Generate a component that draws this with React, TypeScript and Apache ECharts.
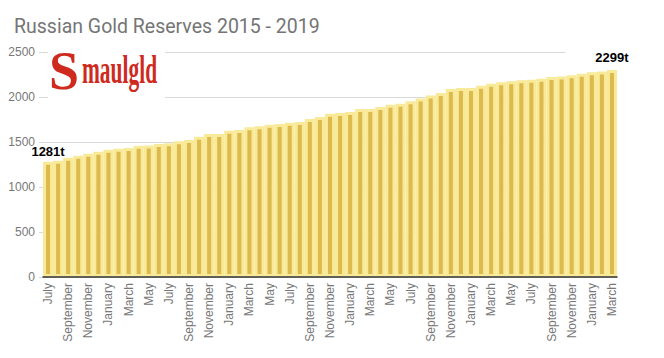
import React, { useEffect, useRef } from "react";
import * as echarts from "echarts";

const TITLE = "Russian Gold Reserves 2015 - 2019";

const months: string[] = [
  "July", "August", "September", "October", "November", "December",
  "January", "February", "March", "April", "May", "June",
  "July", "August", "September", "October", "November", "December",
  "January", "February", "March", "April", "May", "June",
  "July", "August", "September", "October", "November", "December",
  "January", "February", "March", "April", "May", "June",
  "July", "August", "September", "October", "November", "December",
  "January", "February", "March", "April", "May", "June",
  "July", "August", "September", "October", "November", "December",
  "January", "February", "March",
];

const reserves: number[] = [
  1281, 1293, 1326, 1348, 1370, 1393, 1415, 1426, 1433, 1459,
  1460, 1477, 1485, 1507, 1522, 1559, 1588, 1590, 1626, 1633,
  1663, 1674, 1693, 1699, 1715, 1722, 1755, 1777, 1813, 1822,
  1833, 1866, 1867, 1888, 1915, 1926, 1952, 1982, 2018, 2044,
  2088, 2099, 2100, 2126, 2148, 2163, 2174, 2185, 2193, 2204,
  2222, 2229, 2241, 2259, 2274, 2282, 2299,
];

const yTicks = { min: 0, max: 2500, interval: 500 };

export default function App() {
  const ref = useRef<HTMLDivElement>(null);
  useEffect(() => {
    if (!ref.current) return;
    const chart = echarts.init(ref.current, null, { renderer: "svg" });
    const last = reserves.length - 1;
    const seriesData = reserves.map((v, i) =>
      i === 0 || i === last
        ? {
            value: v,
            label: {
              show: true,
              position: "top",
              formatter: "{c}t",
              color: "#000",
              fontWeight: "bold",
              fontSize: 13,
              fontFamily: "Liberation Sans, Arial, sans-serif",
              backgroundColor: i === last ? "#fff" : "transparent",
              padding: i === last ? [2, 30, 2, 30] : 0,
              distance: 4,
            },
          }
        : v
    );
    chart.setOption({
      animation: false,
      backgroundColor: "#fff",
      title: {
        text: TITLE,
        left: 9,
        top: 11,
        textStyle: {
          fontFamily: "Roboto, sans-serif",
          fontWeight: "normal",
          fontSize: 19.5,
          color: "#757575",
        },
      },
      grid: { left: 43, right: 47, top: 52, bottom: 81 },
      xAxis: {
        type: "category",
        data: months,
        z: 5,
        axisLine: { lineStyle: { color: "#333", width: 1.5 } },
        axisTick: { show: false },
        axisLabel: {
          interval: 1,
          rotate: 90,
          color: "#777",
          fontSize: 12,
          fontFamily: "Liberation Sans, Arial, sans-serif",
          margin: 6,
        },
      },
      yAxis: {
        type: "value",
        min: yTicks.min,
        max: yTicks.max,
        interval: yTicks.interval,
        axisLine: { show: false },
        axisTick: { show: true, length: 4, lineStyle: { color: "#d9d9d9" } },
        axisLabel: {
          color: "#777",
          fontSize: 12,
          fontFamily: "Liberation Sans, Arial, sans-serif",
          margin: 8,
          formatter: (v: number) => String(v),
        },
        splitLine: { lineStyle: { color: "#d9d9d9" } },
      },
      series: [
        {
          type: "bar",
          data: seriesData,
          barCategoryGap: "0%",
          itemStyle: {
            color: "#DDBA4E",
            borderColor: "#F8EA98",
            borderWidth: 3,
          },
          z: 2,
        },
      ],
      graphic: [
        {
          type: "rect",
          shape: { x: 48, y: 44, width: 117, height: 56 },
          style: { fill: "#fff" },
          z: 10,
        },
        {
          type: "text",
          x: 49,
          y: 44,
          z: 11,
          style: {
            text: "S",
            fontFamily: "Liberation Serif, serif",
            fontWeight: "bold",
            fontSize: 54,
            fill: "#cf2a1e",
            textVerticalAlign: "top",
          },
        },
        {
          type: "text",
          x: 82,
          y: 50,
          z: 11,
          scaleX: 0.55,
          style: {
            text: "maulgld",
            fontFamily: "Liberation Serif, serif",
            fontWeight: "bold",
            fontSize: 39,
            fill: "#cf2a1e",
            textVerticalAlign: "top",
          },
        },
      ],
    });
    return () => chart.dispose();
  }, []);
  return (
    <div
      ref={ref}
      style={{ position: "absolute", left: 0, top: 0, width: 664, height: 358 }}
    />
  );
}
